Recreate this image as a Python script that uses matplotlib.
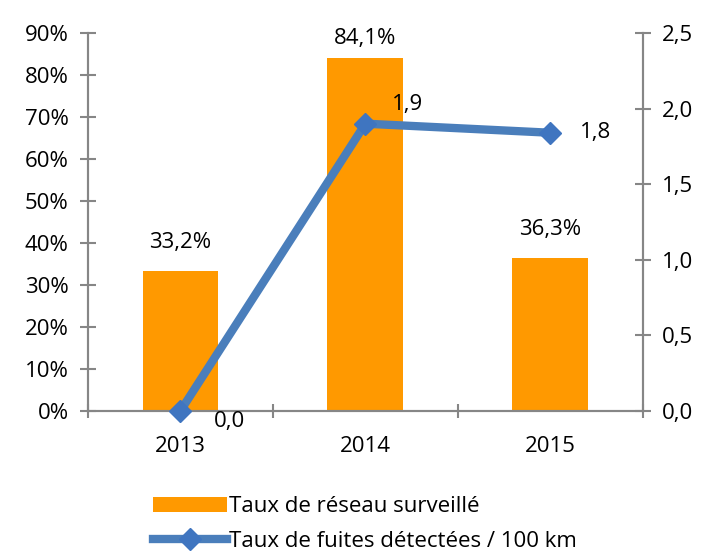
import matplotlib.pyplot as plt
import numpy as np

years = ['2013', '2014', '2015']
surveille = [33.2, 84.1, 36.3]
surveille_labels = ['33,2%', '84,1%', '36,3%']
fuites = [0.0, 1.9, 1.84]
fuites_labels = ['0,0', '1,9', '1,8']

plt.rcParams['font.family'] = ['Open Sans', 'DejaVu Sans']
grey = '#868686'
fs = 16

fig = plt.figure(figsize=(7.04, 5.59), dpi=100)
ax = fig.add_axes([0.125, 0.265, 0.788, 0.676])
ax2 = ax.twinx()

x = np.arange(len(years))
bars = ax.bar(x, surveille, width=0.41, color='#FF9900', zorder=2,
              label='Taux de réseau surveillé')
ax.set_xlim(-0.5, 2.5)
ax.set_ylim(0, 90)
ax.set_yticks(range(0, 91, 10))
ax.set_yticklabels([f'{v}%' for v in range(0, 91, 10)])
ax.set_xticks(x)
ax.set_xticklabels(years)
ax.set_xticks([-0.5, 0.5, 1.5, 2.5], minor=True)
ax.tick_params(axis='x', which='major', length=0, pad=18, labelsize=fs)
ax.tick_params(axis='x', which='minor', length=10, direction='inout', color=grey, width=1.5)
ax.tick_params(axis='y', length=12, direction='inout', color=grey, width=1.5,
               labelsize=fs, pad=8)

bar_offsets = [13, 6.5, 13]
for i, v in enumerate(surveille):
    ax.annotate(surveille_labels[i], (x[i], v), xytext=(0, bar_offsets[i]),
                textcoords='offset points', ha='center', va='bottom', fontsize=fs)

line, = ax2.plot(x, fuites, color='#4A7EBB', lw=6, marker='D', markersize=11,
                 markerfacecolor='#3F75C0', markeredgecolor='#3F75C0', zorder=3,
                 label='Taux de fuites détectées / 100 km', clip_on=False)
ax2.set_ylim(0, 2.5)
ax2.set_yticks(np.arange(0, 2.51, 0.5))
ax2.set_yticklabels([f'{v:.1f}'.replace('.', ',') for v in np.arange(0, 2.51, 0.5)])
ax2.tick_params(axis='y', length=12, direction='inout', color=grey, width=1.5,
                labelsize=fs, pad=8)

offsets = [(24, -8), (19, 14), (21, 0)]
for i, v in enumerate(fuites):
    ax2.annotate(fuites_labels[i], (x[i], v), xytext=offsets[i], textcoords='offset points',
                 ha='left', va='center', fontsize=fs)

for a in (ax, ax2):
    a.spines['top'].set_visible(False)
    for s in ('left', 'right', 'bottom'):
        a.spines[s].set_color(grey)
        a.spines[s].set_linewidth(1.5)

fig.legend(handles=[bars, line], loc='upper left', bbox_to_anchor=(0.205, 0.128),
           frameon=False, fontsize=fs, handlelength=3.3, handletextpad=0.1,
           labelspacing=0.6, borderaxespad=0)

fig.savefig('out.png', dpi=100)
